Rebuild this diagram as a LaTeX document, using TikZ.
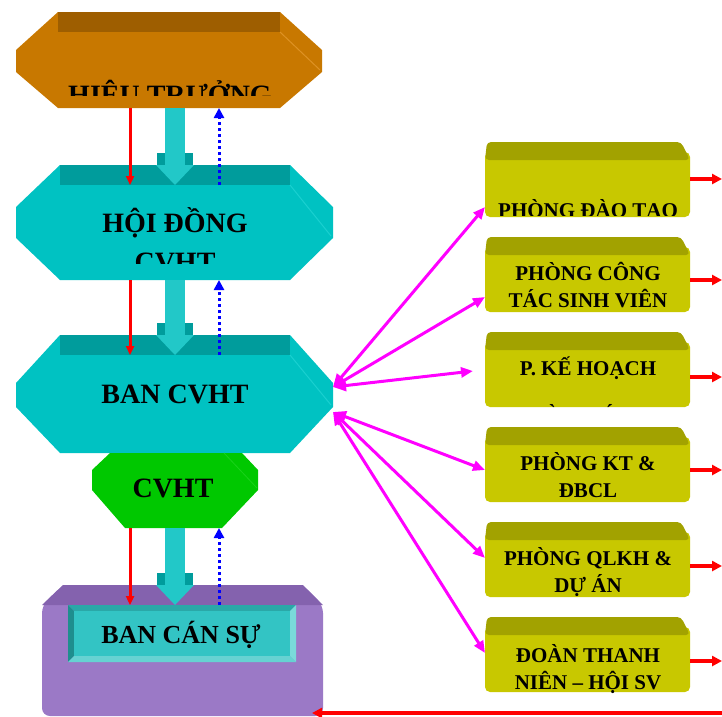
\documentclass[tikz,border=0pt]{standalone}
\usepackage{fontspec}
\setmainfont{Liberation Serif}
\usetikzlibrary{arrows.meta}

\definecolor{htmain}{HTML}{C87800}
\definecolor{httop}{HTML}{9E5E00}
\definecolor{htedge}{HTML}{DE9224}
\definecolor{cymain}{HTML}{00C2C2}
\definecolor{cytop}{HTML}{009C9C}
\definecolor{cylite}{HTML}{22C8C8}
\definecolor{cyedge}{HTML}{1AD0D0}
\definecolor{gnmain}{HTML}{00C800}
\definecolor{gnedge}{HTML}{1AD21A}
\definecolor{pumain}{HTML}{9B79C6}
\definecolor{putop}{HTML}{8462AE}
\definecolor{bvtop}{HTML}{2AA8A8}
\definecolor{bvleft}{HTML}{1E8E8E}
\definecolor{bvright}{HTML}{7ADADA}
\definecolor{bvbot}{HTML}{66D2D2}
\definecolor{bvface}{HTML}{33C4C4}
\definecolor{olmain}{HTML}{C8C800}
\definecolor{oltop}{HTML}{A2A200}
\definecolor{linkcol}{HTML}{FF00FF}
\definecolor{downcol}{HTML}{FF0000}
\definecolor{upcol}{HTML}{0000FF}

\begin{document}
\begin{tikzpicture}[x=1pt, y=-1pt,
    bigtxt/.style = {font=\fontsize{28}{30}\selectfont\bfseries, anchor=base, inner sep=0pt},
    boxtxt/.style = {font=\fontsize{21}{24}\selectfont\bfseries, anchor=base, inner sep=0pt},
    redarr/.style = {downcol, line width=3pt, -{Triangle[length=9pt,width=8pt]}},
    bluearr/.style = {upcol, line width=3pt, dash pattern=on 3pt off 3pt, -{Triangle[length=10pt,width=10pt]}},
    sidearr/.style = {downcol, line width=4pt, -{Triangle[length=10pt,width=10pt]}},
    linkarr/.style = {linkcol, line width=3pt, {Triangle[length=13pt,width=11pt]}-{Triangle[length=12pt,width=10pt]}}]
    \useasboundingbox (0,0) rectangle (722,716);

    % left column shapes
    \fill[htmain] (58,12) -- (280,12) -- (322,50) -- (322,72) -- (280,108) -- (58,108) -- (16,72) -- (16,50) -- cycle;
    \fill[httop] (58,12) rectangle (280,32);
    \draw[htedge, line width=1pt] (280,32) -- (320,70);

    \fill[cymain] (60,165) -- (290,165) -- (333,207) -- (333,238) -- (290,280) -- (60,280) -- (16,238) -- (16,207) -- cycle;
    \fill[cytop] (60,165) rectangle (290,185);
    \draw[cyedge, line width=1pt] (290,185) -- (331,236);

    \fill[cymain] (60,335) -- (290,335) -- (333,383) -- (333,407) -- (290,453) -- (60,453) -- (16,407) -- (16,383) -- cycle;
    \fill[cytop] (60,335) rectangle (290,355);
    \draw[cyedge, line width=1pt] (290,355) -- (331,405);

    \fill[gnmain] (110,453) -- (242,453) -- (258,470) -- (258,490) -- (222,528) -- (125,528) -- (92,490) -- (92,470) -- cycle;
    \draw[gnedge, line width=0.8pt] (224,453) -- (257,488);

    \fill[pumain, rounded corners=8pt] (42,605) -- (63,585) -- (303,585) -- (323,605) -- (323,716) -- (42,716) -- cycle;
    \fill[putop] (63,585) -- (303,585) -- (323,605) -- (42,605) -- cycle;
    \fill[bvtop] (68,605) -- (296,605) -- (290,611) -- (74,611) -- cycle;
    \fill[bvleft] (68,605) -- (74,611) -- (74,656) -- (68,662) -- cycle;
    \fill[bvright] (296,605) -- (296,662) -- (290,656) -- (290,611) -- cycle;
    \fill[bvbot] (68,662) -- (296,662) -- (290,656) -- (74,656) -- cycle;
    \fill[bvface] (74,611) rectangle (290,656);

    % right column boxes
    \foreach \t in {142,237,332,427,522,617}{
        \fill[olmain, rounded corners=5pt] (485,\t+10) rectangle (690,\t+75);
        \fill[oltop, rounded corners=4pt] (487,\t) -- (681,\t) -- (690,\t+18) -- (485,\t+18) -- cycle;
    }

    % thick block arrows
    \foreach \a/\b in {108/185, 280/355, 528/605}{
        \fill[cylite] (165,\a) rectangle (185,\b-20);
        \fill[cytop] (157,\b-32) rectangle (165,\b-20);
        \fill[cytop] (185,\b-32) rectangle (193,\b-20);
        \fill[cylite] (156,\b-20) -- (194,\b-20) -- (175,\b) -- cycle;
    }

    % anchor points
    \coordinate (colr) at (130,0);
    \coordinate (colb) at (219,0);
    \coordinate (rim) at (722,0);
    \coordinate (ht-b) at (175,108);
    \coordinate (hd-t) at (175,185);
    \coordinate (hd-b) at (175,280);
    \coordinate (ban-t) at (175,355);
    \coordinate (cv-b) at (175,528);
    \coordinate (bcs-t) at (175,605);
    \coordinate (ban-e1) at (333,387);
    \coordinate (ban-e2) at (333,412);
    \coordinate (bcs-e) at (312,713);
    \coordinate (pdt-w) at (485,207);
    \coordinate (pct-w) at (485,297);
    \coordinate (pkh-w) at (473,371);
    \coordinate (pkt-w) at (485,470);
    \coordinate (pql-w) at (485,558);
    \coordinate (dtn-w) at (485,653);
    \coordinate (pdt-e) at (690,179);
    \coordinate (pct-e) at (690,280);
    \coordinate (pkh-e) at (690,377);
    \coordinate (pkt-e) at (690,470);
    \coordinate (pql-e) at (690,566);
    \coordinate (dtn-e) at (690,661);

    % down and up links
    \foreach \a/\b in {ht-b/hd-t, hd-b/ban-t, cv-b/bcs-t}{
        \draw[redarr] (colr |- \a) -- (colr |- \b);
        \draw[bluearr] (colb |- \b) -- (colb |- \a);
    }

    % links to the offices
    \foreach \e in {pdt-w, pct-w, pkh-w}
        \draw[linkarr] (ban-e1) -- (\e);
    \foreach \e in {pkt-w, pql-w, dtn-w}
        \draw[linkarr] (ban-e2) -- (\e);
    \foreach \e in {pdt-e, pct-e, pkh-e, pkt-e, pql-e, dtn-e}
        \draw[sidearr] (\e) -- (\e -| rim);
    \draw[sidearr] (bcs-e -| rim) -- (bcs-e);

    % labels
    \begin{scope}
        \clip (0,0) rectangle (340,95);
        \node[bigtxt] (ht) at (170,104) {HIỆU TRƯỞNG};
    \end{scope}
    \begin{scope}
        \clip (0,160) rectangle (340,263);
        \node[bigtxt] (hd) at (175,232) {HỘI ĐỒNG};
        \node[bigtxt] (hd2) at (175,271) {CVHT};
    \end{scope}
    \node[bigtxt] (ban) at (175,403) {BAN CVHT};
    \node[bigtxt] (cv) at (173,497) {CVHT};
    \node[bigtxt, font=\fontsize{26}{28}\selectfont\bfseries] (bcs) at (181,643) {BAN CÁN SỰ};

    \begin{scope}
        \clip (480,140) rectangle (700,215);
        \node[boxtxt] (pdt) at (588,217) {PHÒNG ĐÀO TẠO};
    \end{scope}
    \node[boxtxt] (pct) at (588,280) {PHÒNG CÔNG};
    \node[boxtxt] (pct2) at (588,307) {TÁC SINH VIÊN};
    \begin{scope}
        \clip (480,330) rectangle (700,407);
        \node[boxtxt] (pkh) at (588,375) {P. KẾ HOẠCH};
        \node[boxtxt] (pkh2) at (588,422) {TÀI CHÍNH};
    \end{scope}
    \node[boxtxt] (pkt) at (588,470) {PHÒNG KT \&};
    \node[boxtxt] (pkt2) at (588,497) {ĐBCL};
    \node[boxtxt] (pql) at (588,565) {PHÒNG QLKH \&};
    \node[boxtxt] (pql2) at (588,592) {DỰ ÁN};
    \node[boxtxt] (dtn) at (588,662) {ĐOÀN THANH};
    \node[boxtxt] (dtn2) at (588,689) {NIÊN – HỘI SV};
\end{tikzpicture}
\end{document}
